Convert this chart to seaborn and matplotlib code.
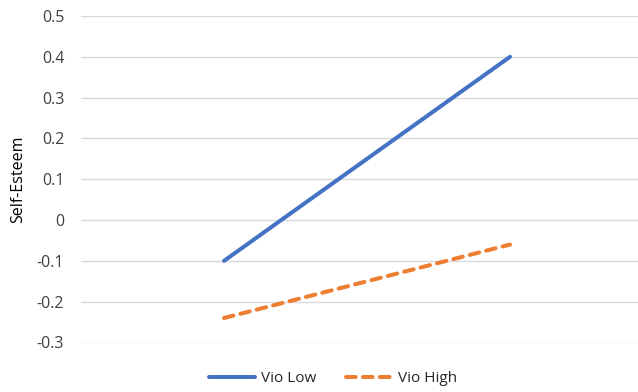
import matplotlib
matplotlib.use("Agg")
import matplotlib.pyplot as plt
import seaborn as sns
import pandas as pd

# Simple-slopes data: two levels of the predictor, two moderator series
levels = ["Low", "High"]
vio_low = [-0.10, 0.40]
vio_high = [-0.24, -0.06]
series_names = ["Vio Low", "Vio High"]
y_ticks = [-0.3, -0.2, -0.1, 0.0, 0.1, 0.2, 0.3, 0.4, 0.5]
y_tick_labels = ["-0.3", "-0.2", "-0.1", "0", "0.1", "0.2", "0.3", "0.4", "0.5"]

df = pd.DataFrame({
    "x": list(range(len(levels))) * 2,
    "value": vio_low + vio_high,
    "series": [series_names[0]] * len(levels) + [series_names[1]] * len(levels),
})

sns.set_theme(style="white")
plt.rcParams["font.family"] = ["Open Sans", "DejaVu Sans"]

fig = plt.figure(figsize=(6.38, 3.92), dpi=100)
ax = fig.add_axes([81 / 638, 1 - 342.5 / 392, 557 / 638, (342.5 - 16) / 392])

palette = {"Vio Low": "#4472C4", "Vio High": "#ED7D31"}
lw = 2.9
sns.lineplot(
    data=df, x="x", y="value", hue="series", style="series",
    palette=palette, dashes={"Vio Low": "", "Vio High": (2.4, 1.8)},
    linewidth=lw, ax=ax, legend=False,
)
for line in ax.lines:
    line.set_solid_capstyle("round")
    line.set_dash_capstyle("round")

ax.set_xlim(-0.5, -0.5 + 557 / 286)
ax.set_ylim(-0.3, 0.5)
ax.set_yticks(y_ticks)
ax.set_yticklabels(y_tick_labels)
ax.set_xticks([])
ax.set_xlabel("")
ax.set_ylabel("Self-Esteem", fontsize=11.5, color="#000000")
ax.yaxis.set_label_coords(-(81 - 26) / 557, 0.5)
ax.tick_params(axis="y", length=0, pad=12, labelsize=11.5, labelcolor="#404040")
ax.grid(axis="y", color="#D9D9D9", linewidth=1.0)
ax.set_axisbelow(True)
for s in ax.spines.values():
    s.set_visible(False)

handles = [
    plt.Line2D([], [], color=palette["Vio Low"], lw=lw, solid_capstyle="round"),
    plt.Line2D([], [], color=palette["Vio High"], lw=lw, ls=(0, (2.4, 1.8)),
               dash_capstyle="round"),
]
fig.legend(handles, series_names, loc="center", bbox_to_anchor=(333 / 638, 1 - 379 / 392),
           ncol=2, frameon=False, fontsize=11, handlelength=3.0, columnspacing=1.9,
           handletextpad=0.4, labelcolor="#262626")

fig.savefig("out.png", dpi=100)
